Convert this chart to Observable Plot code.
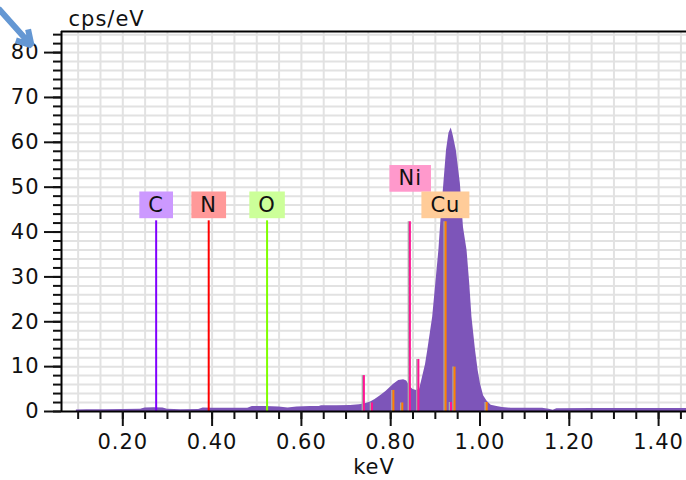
<!DOCTYPE html>
<html>
<head>
<meta charset="utf-8">
<script src="https://cdn.jsdelivr.net/npm/d3@7"></script>
<script src="https://cdn.jsdelivr.net/npm/@observablehq/plot@0.6"></script>
<style>
  html, body { margin: 0; padding: 0; background: #fff; }
  #chart svg { display: block; }
  #chart svg text { letter-spacing: 1px; }
</style>
</head>
<body>
<div id="chart"></div>
<script>
// ---- data ----
const spectrumKeV = [0.096,0.12,0.16,0.20,0.24,0.25,0.27,0.29,0.30,0.33,0.37,0.38,0.40,0.45,0.48,0.49,0.52,0.55,0.57,0.59,0.62,0.64,0.645,0.68,0.71,0.73,0.745,0.755,0.765,0.777,0.79,0.806,0.818,0.829,0.836,0.843,0.85,0.858,0.865,0.871,0.878,0.883,0.894,0.901,0.908,0.913,0.919,0.925,0.9305,0.9356,0.940,0.947,0.956,0.963,0.971,0.977,0.982,0.990,0.996,1.001,1.008,1.016,1.025,1.038,1.05,1.07,1.14,1.155,1.164,1.172,1.25,1.35,1.4625];
const spectrumCps = [0.35,0.4,0.4,0.45,0.5,0.8,0.85,0.8,0.5,0.4,0.45,0.8,0.75,0.7,0.75,1.1,1.1,1.0,0.8,1.0,1.1,1.1,1.3,1.3,1.35,1.5,1.8,2.1,2.7,3.5,4.5,6.0,6.9,7.1,6.8,5.6,4.9,4.7,5.0,7.5,10.5,13.6,21,28.5,36,43.3,50.7,58.2,62,63.2,61.5,58.2,50.8,41,35.9,28.5,21,13.6,9,6.2,3.5,2.3,1.4,1.1,0.9,0.7,0.7,0.5,0.3,0.6,0.65,0.65,0.65];

const markerElement = ["C","N","O","Ni","Ni","Ni","Ni","Ni","Cu","Cu","Cu","Cu","Cu"];
const markerKeV     = [0.2747,0.3924,0.5231,0.843,0.740,0.758,0.862,0.935,0.923,0.806,0.826,0.943,1.015];
const markerCps     = [42.5,42.5,42.5,42.3,8.0,1.9,11.6,2.0,42.3,4.7,1.9,9.9,2.0];

const labelElement = ["C","N","O","Ni","Cu"];
const labelKeV     = [0.2747,0.3924,0.5231,0.8437,0.9225];
const labelCps     = [46.0,46.0,46.0,51.9,46.0];

const xMajorTicks = [0.2,0.4,0.6,0.8,1.0,1.2,1.4];
const yMajorTicks = [0,10,20,30,40,50,60,70,80];

const arrowFrom = [-0.0784, 89.8];
const arrowTo   = [-0.0045, 81.6];

// ---- presentation ----
const xDomain = [0.0627, 1.4625];
const yDomain = [0, 84.7];
const FS = 21;
const lineColor = {C:"#8000ff", N:"#ff0000", O:"#80ff00", Ni:"#ff1493", Cu:"#ff8000"};
const boxColor  = {C:"#cc99ff", N:"#ff9999", O:"#ccff99", Ni:"#ff99cc", Cu:"#ffcc99"};

const spectrum = spectrumKeV.map((x, i) => ({x, y: spectrumCps[i]}));
const markers = markerKeV.map((x, i) => ({el: markerElement[i], x, y: markerCps[i]}));
const labels = labelKeV.map((x, i) => ({el: labelElement[i], x, y: labelCps[i]}));
const shadowed = markers.filter(d => d.el === "Ni" || d.el === "Cu");

const xMinor = d3.range(0.10, xDomain[1], 0.05).map(v => +v.toFixed(2));
const yMinor = d3.range(0, yDomain[1], 2);
const yGrid = d3.range(2, yDomain[1], 2);

const svg = Plot.plot({
  width: 686,
  height: 480,
  marginLeft: 61,
  marginRight: 0,
  marginTop: 31,
  marginBottom: 69,
  style: {fontFamily: "DejaVu Sans, Verdana, sans-serif", fontSize: FS + "px", color: "#111", background: "#fff"},
  x: {domain: xDomain},
  y: {domain: yDomain},
  marks: [
    Plot.ruleX(xMinor, {stroke: "#e2e2e2", strokeWidth: 2}),
    Plot.ruleY(yGrid, {stroke: "#e2e2e2", strokeWidth: 2}),
    Plot.areaY(spectrum, {x: "x", y: "y", fill: "#7d55b9", curve: "linear"}),
    Plot.ruleX(shadowed, {x: "x", y1: 0, y2: "y", stroke: "#a9a9a9", strokeWidth: 1.5, dx: -1.5}),
    Plot.ruleX(markers, {x: "x", y1: 0, y2: "y", stroke: d => lineColor[d.el], strokeWidth: 2}),
    Plot.ruleX([xDomain[0]], {stroke: "#000", strokeWidth: 2}),
    Plot.ruleY([0], {stroke: "#000", strokeWidth: 2}),
    Plot.ruleY([yDomain[1]], {stroke: "#000", strokeWidth: 2}),
    Plot.axisX(xMinor, {tickSize: 8, strokeWidth: 2, tickFormat: () => "", label: null}),
    Plot.axisX(xMajorTicks, {tickSize: 15, tickPadding: 8, strokeWidth: 2, fontSize: FS, tickFormat: d3.format(".2f"), label: null}),
    Plot.axisY(yMinor, {tickSize: 8, strokeWidth: 2, tickFormat: () => "", label: null}),
    Plot.axisY(yMajorTicks, {tickSize: 17, tickPadding: 5, strokeWidth: 2, fontSize: FS, label: null}),
    Plot.text(["cps/eV"], {frameAnchor: "top-left", dx: 7, dy: -12, textAnchor: "start", lineAnchor: "middle", fontSize: FS, fill: "#111"}),
    Plot.text(["keV"], {frameAnchor: "bottom", dy: 56, lineAnchor: "middle", fontSize: FS, fill: "#111"}),
    Plot.arrow([{x1: arrowFrom[0], y1: arrowFrom[1], x2: arrowTo[0], y2: arrowTo[1]}], {x1: "x1", y1: "y1", x2: "x2", y2: "y2", stroke: "#6497d3", strokeWidth: 6, headLength: 9, headAngle: 60, strokeLinecap: "butt"}),
    Plot.text(labels, {x: "x", y: "y", text: "el", fontSize: FS, fill: "#111", lineAnchor: "middle"})
  ]
});
document.getElementById("chart").append(svg);

// backgrounds behind element labels
const names = new Set(labelElement);
svg.querySelectorAll("text").forEach(t => {
  if (!names.has(t.textContent)) return;
  const b = t.getBBox();
  const cy = b.y + b.height / 2;
  const r = document.createElementNS("http://www.w3.org/2000/svg", "rect");
  r.setAttribute("x", b.x - 9);
  r.setAttribute("width", b.width + 18);
  r.setAttribute("y", cy - 13.35);
  r.setAttribute("height", 26.7);
  r.setAttribute("fill", boxColor[t.textContent]);
  if (t.getAttribute("transform")) r.setAttribute("transform", t.getAttribute("transform"));
  t.parentNode.insertBefore(r, t);
});
</script>
</body>
</html>
